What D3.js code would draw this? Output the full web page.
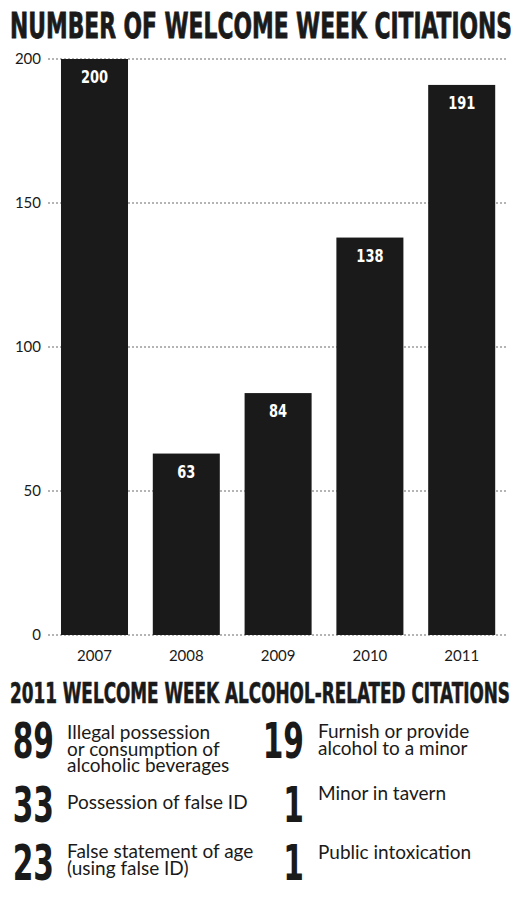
<!DOCTYPE html>
<html>
<head>
<meta charset="utf-8">
<script src="https://cdn.jsdelivr.net/npm/d3@7"></script>
<style>
  body { margin: 0; background: #fff; }
  svg { display: block; }
  .cond { font-family: "DejaVu Sans Condensed", "Liberation Sans Narrow", "Roboto", sans-serif; font-weight: 700; }
  .body { font-family: Lato, "Open Sans", sans-serif; fill: #1a1a1a; }
</style>
</head>
<body>
<svg id="chart" width="519" height="900"></svg>
<script>
"use strict";

// ---- data
const years = ["2007", "2008", "2009", "2010", "2011"];
const citations = [200, 63, 84, 138, 191];
const yTicks = [0, 50, 100, 150, 200];

const leftCounts = [89, 33, 23];
const leftLabels = [
  ["Illegal possession", "or consumption of", "alcoholic beverages"],
  ["Possession of false ID"],
  ["False statement of age", "(using false ID)"]
];
const rightCounts = [19, 1, 1];
const rightLabels = [
  ["Furnish or provide", "alcohol to a minor"],
  ["Minor in tavern"],
  ["Public intoxication"]
];

const svg = d3.select("#chart");
const ink = "#1a1a1a";

// ---- title (a thin stroke fattens the condensed face a bit)
svg.append("text").attr("class", "cond")
  .attr("x", 10).attr("y", 38)
  .attr("textLength", 502).attr("lengthAdjust", "spacingAndGlyphs")
  .style("font-size", "36px").attr("fill", ink)
  .attr("stroke", ink).attr("stroke-width", 0.8)
  .text("NUMBER OF WELCOME WEEK CITIATIONS");

// ---- scales
const x = d3.scaleBand().domain(years).range([48.6, 507.6])
  .paddingInner(0.27).paddingOuter(0.135);
const y = d3.scaleLinear().domain([0, 200]).range([635, 59]);

// grid lines (dotted)
svg.append("g").selectAll("line").data(yTicks).enter().append("line")
  .attr("x1", 48).attr("x2", 507)
  .attr("y1", d => y(d)).attr("y2", d => y(d))
  .attr("stroke", "#6a6a6a").attr("stroke-width", 1.2)
  .attr("stroke-dasharray", "2,2");

// y tick labels
svg.append("g").selectAll("text").data(yTicks).enter().append("text")
  .attr("class", "body")
  .attr("x", 41).attr("y", d => y(d) + 5)
  .attr("text-anchor", "end").style("font-size", "15px")
  .text(d => d);

// bars
const rows = years.map((yr, i) => ({year: yr, value: citations[i]}));
svg.append("g").selectAll("rect").data(rows).enter().append("rect")
  .attr("x", d => x(d.year)).attr("width", x.bandwidth())
  .attr("y", d => y(d.value)).attr("height", d => y(0) - y(d.value))
  .attr("fill", ink);

// bar value labels
svg.append("g").selectAll("text").data(rows).enter().append("text")
  .attr("class", "cond")
  .attr("transform", d => `translate(${x(d.year) + x.bandwidth() / 2},${y(d.value) + 24}) scale(0.85,1)`)
  .attr("text-anchor", "middle").attr("fill", "#fff")
  .style("font-size", "17px")
  .text(d => d.value);

// x labels
svg.append("g").selectAll("text").data(years).enter().append("text")
  .attr("class", "body")
  .attr("x", d => x(d) + x.bandwidth() / 2).attr("y", 661)
  .attr("text-anchor", "middle").style("font-size", "15px")
  .text(d => d);

// ---- second section
svg.append("text").attr("class", "cond")
  .attr("x", 10).attr("y", 703)
  .attr("textLength", 500).attr("lengthAdjust", "spacingAndGlyphs")
  .style("font-size", "28px").attr("fill", ink)
  .attr("stroke", ink).attr("stroke-width", 0.6)
  .text("2011 WELCOME WEEK ALCOHOL-RELATED CITATIONS");

const rowBase = [758, 822, 880];      // baseline of the big numbers

function column(counts, labels, numRight, textX, firstLines) {
  const g = svg.append("g");
  counts.forEach((c, i) => {
    // squeezed horizontally to get the condensed look
    g.append("text").attr("class", "cond")
      .attr("transform", `translate(${numRight},${rowBase[i]}) scale(0.66,1)`)
      .attr("text-anchor", "end").attr("fill", ink)
      .style("font-size", "50px")
      .text(c);
    labels[i].forEach((ln, j) => {
      g.append("text").attr("class", "body")
        .attr("x", textX).attr("y", firstLines[i] + j * 16.5)
        .style("font-size", "19px")
        .text(ln);
    });
  });
}

column(leftCounts, leftLabels, 54, 67, [739, 809, 858]);
column(rightCounts, rightLabels, 304, 318, [738, 800, 859]);
</script>
</body>
</html>
